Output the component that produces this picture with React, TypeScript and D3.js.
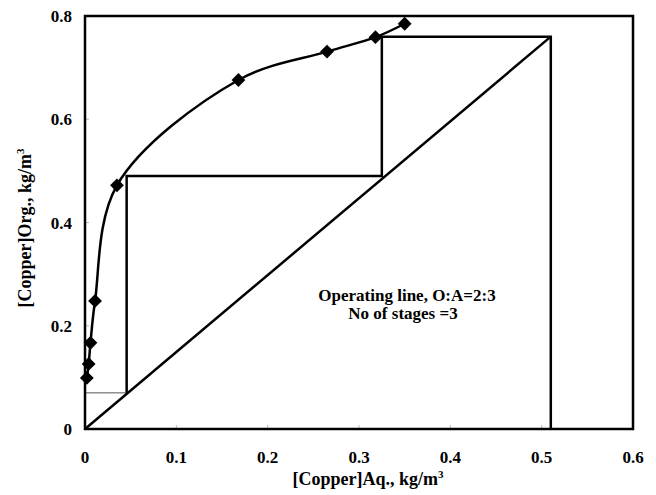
import React from "react";
import * as d3 from "d3";

const isoX = [0.002, 0.004, 0.006, 0.011, 0.035, 0.168, 0.265, 0.318, 0.35];
const isoY = [0.099, 0.126, 0.167, 0.248, 0.472, 0.676, 0.731, 0.759, 0.785];

const opX = [0, 0.51];
const opY = [0, 0.76];

const stairX = [0.51, 0.51, 0.325, 0.325, 0.0456, 0.0456];
const stairY = [0, 0.76, 0.76, 0.49, 0.49, 0.07];

const thinX = [0, 0.0456];
const thinY = [0.07, 0.07];

const xTicks = [0, 0.1, 0.2, 0.3, 0.4, 0.5, 0.6];
const yTicks = [0, 0.2, 0.4, 0.6, 0.8];

const W = 656, H = 495;
const L = 85, R = 633, T = 16, B = 429;
const FONT = "'Liberation Serif', 'Times New Roman', serif";

export default function App() {
  const x = d3.scaleLinear().domain([0, 0.6]).range([L, R]);
  const y = d3.scaleLinear().domain([0, 0.8]).range([B, T]);
  const pathOf = (xs: number[], ys: number[], curve?: any) => {
    const g = d3.line<[number, number]>().x((d) => x(d[0])).y((d) => y(d[1]));
    if (curve) g.curve(curve);
    return g(xs.map((v, i) => [v, ys[i]] as [number, number])) || "";
  };
  const diamond = d3.symbol().type(d3.symbolSquare).size(95)() || "";
  return (
    <svg width={W} height={H} style={{ position: "absolute", left: 0, top: 0, background: "#fff" }}
      fontFamily={FONT} fontWeight="bold">
      {xTicks.slice(1, -1).map((t) => (
        <line key={"xt" + t} x1={x(t)} x2={x(t)} y1={B} y2={B - 4} stroke="#bbb" strokeWidth={1} />
      ))}
      {yTicks.slice(1, -1).map((t) => (
        <line key={"yt" + t} x1={L} x2={L + 4} y1={y(t)} y2={y(t)} stroke="#bbb" strokeWidth={1} />
      ))}
      <path d={pathOf(thinX, thinY)} fill="none" stroke="#555" strokeWidth={1} />
      <path d={pathOf(opX, opY)} fill="none" stroke="#000" strokeWidth={2.5} />
      <path d={pathOf(stairX, stairY)} fill="none" stroke="#000" strokeWidth={2.5} />
      <path d={pathOf(isoX, isoY, d3.curveCatmullRom.alpha(0.5))} fill="none" stroke="#000" strokeWidth={2.5} />
      {isoX.map((v, i) => (
        <path key={"p" + i} d={diamond} transform={`translate(${x(v)},${y(isoY[i])}) rotate(45)`} fill="#000" />
      ))}
      <rect x={L} y={T} width={R - L} height={B - T} fill="none" stroke="#000" strokeWidth={2.5} />
      {xTicks.map((t) => (
        <text key={"xl" + t} x={x(t)} y={463} textAnchor="middle" fontSize={17}>{d3.format("")(t)}</text>
      ))}
      {yTicks.map((t) => (
        <text key={"yl" + t} x={72} y={y(t) + 6} textAnchor="end" fontSize={17}>{d3.format("")(t)}</text>
      ))}
      <text x={368} y={485} textAnchor="middle" fontSize={18}>
        [Copper]Aq., kg/m<tspan dy={-7} fontSize={11}>3</tspan>
      </text>
      <text transform="translate(31,228) rotate(-90)" textAnchor="middle" fontSize={18}>
        [Copper]Org., kg/m<tspan dy={-7} fontSize={11}>3</tspan>
      </text>
      <text x={407} y={301} textAnchor="middle" fontSize={17}>Operating line, O:A=2:3</text>
      <text x={403} y={319} textAnchor="middle" fontSize={17}>No of stages =3</text>
    </svg>
  );
}
